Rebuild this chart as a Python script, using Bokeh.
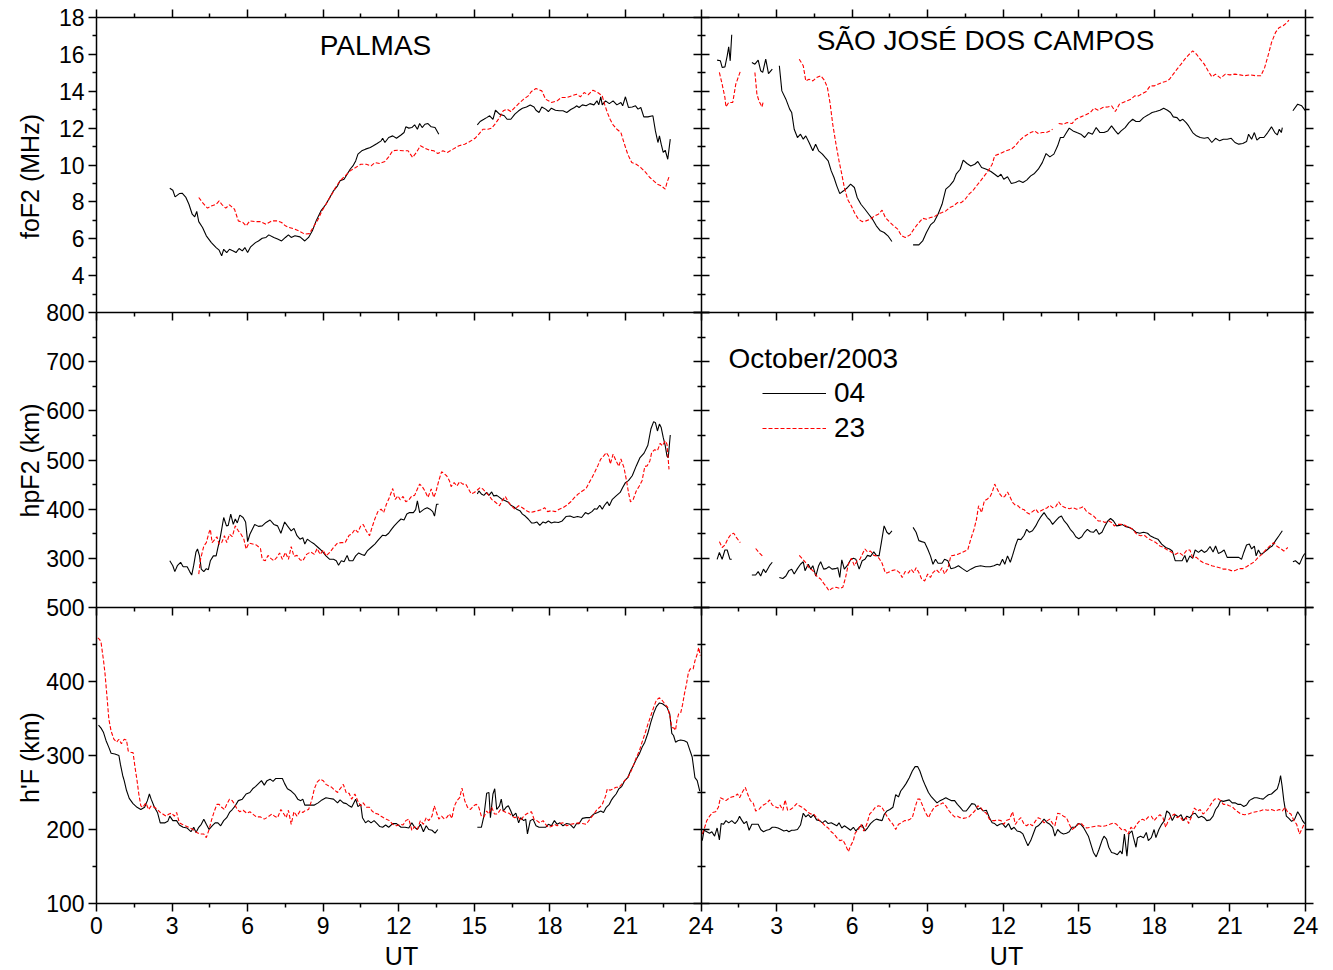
import math
from bokeh.plotting import figure
from bokeh.models import (Range1d, LinearAxis, FixedTicker, Label, Legend,
                          LegendItem, CustomJSTickFormatter)
from bokeh.embed import file_html
from bokeh.resources import INLINE

NAN = float("nan")
FONT = "Liberation Sans"

# ---------------- data (UT hours, value) ; None = data gap ----------------
STATIONS = ["PALMAS", "SÃO JOSÉ DOS CAMPOS"]
DAYS = ["04", "23"]
LEGEND_TITLE = "October/2003"
Y_TITLES = ["foF2 (MHz)", "hpF2 (km)", "h'F (km)"]
X_TITLE = "UT"

UT_TICKS = [0, 3, 6, 9, 12, 15, 18, 21, 24]
FOF2_TICKS = [4, 6, 8, 10, 12, 14, 16, 18]
HPF2_TICKS = [300, 400, 500, 600, 700, 800]
HF_TICKS = [100, 200, 300, 400, 500]

PAL_FOF2_04 = [(2.91,8.74),(3.03,8.63),(3.12,8.27),(3.29,8.45),(3.40,8.47),(3.55,8.24),(3.67,7.87),(3.80,7.33),(3.90,7.19),(3.98,7.48),(4.06,6.93),(4.21,6.61),(4.36,6.16),(4.56,5.79),(4.75,5.52),(4.87,5.38),(4.97,5.07),(5.05,5.43),(5.17,5.25),(5.28,5.43),(5.43,5.34),(5.54,5.25),(5.66,5.47),(5.79,5.34),(5.89,5.52),(6.00,5.25),(6.12,5.56),(6.31,5.79),(6.43,5.88),(6.58,6.03),(6.73,6.07),(6.84,6.21),(7.04,6.07),(7.19,5.98),(7.35,5.88),(7.50,6.07),(7.62,6.21),(7.73,6.07),(7.88,6.16),(8.08,6.10),(8.27,5.88),(8.42,6.07),(8.57,6.43),(8.72,6.97),(8.91,7.51),(9.11,7.87),(9.26,8.24),(9.41,8.60),(9.57,8.87),(9.67,9.14),(9.83,9.23),(9.95,9.50),(10.07,9.77),(10.18,9.95),(10.29,10.22),(10.38,10.59),(10.53,10.77),(10.68,10.86),(10.87,10.95),(10.99,11.04),(11.14,11.17),(11.30,11.31),(11.36,11.45),(11.45,11.22),(11.60,11.49),(11.76,11.58),(11.91,11.45),(12.09,11.63),(12.21,11.76),(12.28,12.07),(12.40,12.00),(12.52,12.03),(12.63,12.18),(12.74,11.94),(12.83,12.25),(12.93,12.03),(13.04,12.21),(13.16,12.25),(13.29,12.07),(13.44,12.03),(13.59,11.67),
    None,
    (15.12,12.18),(15.23,12.36),(15.38,12.48),(15.49,12.57),(15.61,12.67),(15.74,12.48),(15.84,12.97),(16.00,12.76),(16.19,12.67),(16.30,12.48),(16.45,12.48),(16.61,12.76),(16.76,12.94),(16.91,13.08),(17.07,13.15),(17.22,13.26),(17.37,13.15),(17.45,12.97),(17.57,12.85),(17.68,13.15),(17.83,13.03),(17.94,12.90),(18.06,13.08),(18.22,12.97),(18.37,12.94),(18.52,12.94),(18.67,12.85),(18.83,13.01),(18.98,13.12),(19.06,13.21),(19.16,13.12),(19.29,13.26),(19.44,13.21),(19.59,13.33),(19.75,13.26),(19.87,13.48),(19.94,13.26),(20.02,13.70),(20.08,13.26),(20.21,13.48),(20.36,13.33),(20.51,13.48),(20.66,13.26),(20.82,13.39),(20.89,13.21),(21.00,13.70),(21.12,13.12),(21.27,13.15),(21.40,13.21),(21.50,13.03),(21.61,13.12),(21.73,12.61),(21.89,12.61),(22.09,12.67),(22.19,11.85),(22.29,11.22),(22.35,11.58),(22.42,11.13),(22.50,10.68),(22.58,10.80),(22.68,10.31),(22.78,11.40)]

PAL_FOF2_23 = [(4.06,8.24),(4.21,7.96),(4.41,7.66),(4.56,7.78),(4.75,7.87),(4.87,8.05),(4.97,7.87),(5.13,7.66),(5.28,7.84),(5.48,7.60),(5.63,6.97),(5.82,6.88),(5.94,6.70),(6.09,6.97),(6.28,6.93),(6.51,6.93),(6.73,6.79),(6.96,6.97),(7.19,6.97),(7.35,6.88),(7.50,6.70),(7.65,6.61),(7.88,6.52),(8.08,6.39),(8.27,6.25),(8.45,6.28),(8.60,6.61),(8.80,7.06),(8.95,7.51),(9.11,7.87),(9.31,8.33),(9.49,8.78),(9.67,9.14),(9.87,9.41),(10.07,9.68),(10.29,9.86),(10.49,10.04),(10.71,10.04),(10.90,9.95),(11.05,10.13),(11.25,10.08),(11.45,10.19),(11.60,10.44),(11.76,10.77),(11.94,10.80),(12.17,10.77),(12.37,10.77),(12.55,10.41),(12.70,10.68),(12.86,11.04),(13.04,10.91),(13.24,10.80),(13.39,10.77),(13.55,10.62),(13.75,10.77),(13.93,10.68),(14.16,10.86),(14.39,11.04),(14.62,11.13),(14.82,11.27),(15.03,11.45),(15.18,11.67),(15.34,11.94),(15.54,11.94),(15.69,12.00),(15.84,12.25),(16.00,12.57),(16.15,12.94),(16.30,13.03),(16.45,12.90),(16.61,13.12),(16.76,13.33),(16.96,13.57),(17.14,13.75),(17.27,13.99),(17.45,14.15),(17.68,14.02),(17.83,13.57),(18.06,13.39),(18.29,13.48),(18.45,13.66),(18.67,13.66),(18.86,13.75),(19.06,13.84),(19.21,13.70),(19.36,13.93),(19.52,13.81),(19.71,14.06),(19.90,13.93),(20.08,13.75),(20.17,13.30),(20.28,12.85),(20.39,12.48),(20.51,12.18),(20.66,11.94),(20.82,11.76),(20.94,11.22),(21.09,10.59),(21.25,10.13),(21.43,10.04),(21.61,9.86),(21.81,9.59),(21.97,9.32),(22.12,9.14),(22.27,8.96),(22.42,8.87),(22.58,8.69),(22.65,9.05),(22.73,9.36)]

SJC_FOF2_04 = [(0.64,15.69),(0.77,15.65),(0.84,15.29),(0.95,15.32),(1.04,15.92),(1.10,16.41),(1.16,15.65),(1.22,17.06),
    None,
    (2.02,15.56),(2.14,15.47),(2.27,15.69),(2.37,15.11),(2.45,15.02),(2.57,15.74),(2.68,14.96),(2.83,15.20),
    None,
    (3.11,15.38),(3.21,14.02),(3.37,13.57),(3.52,13.03),(3.60,12.85),(3.70,11.94),(3.83,11.49),(3.95,11.67),(4.06,11.40),(4.16,11.58),(4.29,11.22),(4.44,10.77),(4.55,11.13),(4.67,10.77),(4.82,10.59),(4.93,10.41),(5.05,10.22),(5.17,9.68),(5.28,9.32),(5.39,8.87),(5.51,8.45),(5.66,8.60),(5.82,8.78),(5.94,8.96),(6.09,8.78),(6.20,8.24),(6.35,7.87),(6.51,7.60),(6.66,7.33),(6.81,7.06),(6.96,6.70),(7.12,6.43),(7.27,6.34),(7.42,6.16),(7.58,5.85),
    None,
    (8.42,5.67),(8.65,5.67),(8.80,5.88),(8.95,6.34),(9.11,6.75),(9.26,6.93),(9.41,7.33),(9.57,7.87),(9.72,8.69),(9.87,8.87),(10.03,9.14),(10.13,9.50),(10.29,9.77),(10.41,10.26),(10.56,10.08),(10.71,9.95),(10.87,10.04),(10.99,10.19),(11.14,9.86),(11.33,9.77),(11.51,9.65),(11.66,9.50),(11.79,9.36),(11.91,9.50),(12.02,9.23),(12.17,9.36),(12.32,9.00),(12.48,9.05),(12.63,9.14),(12.78,9.05),(12.93,9.18),(13.09,9.41),(13.24,9.54),(13.39,9.77),(13.55,10.13),(13.70,10.62),(13.85,10.44),(14.01,10.59),(14.16,11.04),(14.27,11.49),(14.39,11.49),(14.51,11.76),(14.62,12.00),(14.77,11.85),(14.92,11.76),(15.08,11.67),(15.23,11.49),(15.38,11.76),(15.54,11.67),(15.69,12.03),(15.84,11.76),(16.00,11.76),(16.15,11.85),(16.30,12.12),(16.45,11.85),(16.56,11.67),(16.68,11.85),(16.84,12.03),(16.99,12.30),(17.14,12.48),(17.27,12.36),(17.42,12.36),(17.57,12.57),(17.76,12.72),(17.91,12.85),(18.06,12.90),(18.22,12.97),(18.37,13.08),(18.52,12.97),(18.64,12.85),(18.75,12.61),(18.90,12.57),(19.01,12.39),(19.13,12.48),(19.26,12.30),(19.36,12.12),(19.52,11.76),(19.67,11.58),(19.82,11.49),(19.98,11.45),(20.13,11.49),(20.28,11.22),(20.43,11.45),(20.59,11.31),(20.74,11.40),(20.89,11.40),(21.05,11.45),(21.20,11.22),(21.35,11.13),(21.51,11.17),(21.66,11.27),(21.74,11.67),(21.86,11.40),(21.97,11.76),(22.07,11.35),(22.19,11.49),(22.35,11.49),(22.50,11.76),(22.65,12.07),(22.78,11.76),(22.88,11.63),(22.96,11.94),(23.04,11.76),(23.08,12.03),
    None,
    (23.50,12.94),(23.69,13.30),(23.85,13.21),(24.00,12.94)]

SJC_FOF2_23 = [(0.73,15.02),(0.84,14.38),(0.95,13.66),(0.99,13.15),(1.10,13.39),(1.26,13.39),(1.38,14.38),(1.50,14.84),(1.56,15.07),
    None,
    (2.14,15.02),(2.22,13.84),(2.30,13.48),(2.42,13.15),(2.48,13.48),
    None,
    (3.90,15.74),(4.06,15.38),(4.16,14.56),(4.29,14.65),(4.44,14.56),(4.59,14.75),(4.75,14.84),(4.90,14.60),(5.02,14.20),(5.13,13.30),(5.23,12.21),(5.36,11.13),(5.48,10.22),(5.59,9.50),(5.69,8.78),(5.82,8.14),(5.97,7.78),(6.09,7.42),(6.25,7.06),(6.40,6.93),(6.55,6.97),(6.73,7.06),(6.89,7.24),(7.04,7.33),(7.19,7.55),(7.32,7.15),(7.47,6.93),(7.65,6.70),(7.81,6.52),(7.96,6.16),(8.11,6.07),(8.30,6.21),(8.45,6.52),(8.60,6.79),(8.80,7.11),(8.95,7.06),(9.11,7.15),(9.26,7.19),(9.41,7.33),(9.57,7.42),(9.72,7.51),(9.87,7.69),(10.03,7.78),(10.18,7.96),(10.33,7.96),(10.49,8.14),(10.64,8.42),(10.79,8.60),(10.94,8.87),(11.10,9.14),(11.25,9.41),(11.40,9.68),(11.56,10.04),(11.66,10.50),(11.82,10.59),(11.97,10.68),(12.12,10.77),(12.32,10.86),(12.48,11.04),(12.63,11.31),(12.78,11.49),(12.93,11.63),(13.09,11.76),(13.24,11.85),(13.39,11.71),(13.55,11.76),(13.70,11.76),(13.85,11.85),(13.96,11.94),
    None,
    (14.20,12.25),(14.39,12.21),(14.54,12.30),(14.73,12.25),(14.88,12.48),(15.08,12.61),(15.28,12.72),(15.46,12.85),(15.61,13.08),(15.77,12.97),(15.95,13.12),(16.15,13.15),(16.30,13.21),(16.45,12.90),(16.61,13.30),(16.76,13.39),(16.91,13.48),(17.07,13.57),(17.22,13.75),(17.37,13.75),(17.53,13.88),(17.68,13.99),(17.83,14.29),(17.99,14.29),(18.14,14.38),(18.29,14.47),(18.45,14.53),(18.60,14.65),(18.75,14.93),(18.90,15.20),(19.06,15.47),(19.21,15.74),(19.36,15.97),(19.52,16.19),(19.67,16.01),(19.82,15.74),(19.98,15.47),(20.13,15.11),(20.28,14.78),(20.43,14.93),(20.63,14.71),(20.82,14.93),(21.00,14.89),(21.20,14.93),(21.40,14.89),(21.58,14.84),(21.81,14.89),(22.04,14.84),(22.23,14.84),(22.38,15.29),(22.53,16.01),(22.65,16.64),(22.81,17.19),(22.96,17.46),(23.11,17.55),(23.27,17.73),(23.34,17.86)]

PAL_HPF2_04 = [(2.91,295),(3.03,285),(3.11,273),(3.21,285),(3.34,292),(3.44,283),(3.60,283),(3.70,273),(3.78,266),(3.86,286),(3.95,313),(4.01,319),(4.09,305),(4.16,278),(4.26,273),(4.36,279),(4.44,277),(4.52,295),(4.64,305),(4.75,305),(4.82,322),(4.90,339),(4.97,359),(5.05,383),(5.16,366),(5.23,367),(5.33,390),(5.43,369),(5.51,380),(5.59,372),(5.69,388),(5.82,383),(5.92,374),(6.00,334),(6.09,349),(6.28,369),(6.43,365),(6.58,366),(6.73,373),(6.89,378),(7.04,369),(7.19,366),(7.32,351),(7.47,374),(7.58,366),(7.73,356),(7.84,361),(7.96,346),(8.08,339),(8.19,342),(8.27,329),(8.37,339),(8.50,334),(8.65,329),(8.80,322),(8.95,315),(9.11,305),(9.26,298),(9.41,298),(9.52,295),(9.61,286),(9.72,295),(9.83,293),(9.95,306),(10.03,295),(10.18,295),(10.29,305),(10.41,311),(10.53,308),(10.64,306),(10.75,315),(10.90,322),(11.05,329),(11.20,338),(11.36,347),(11.48,346),(11.60,351),(11.71,359),(11.82,366),(11.97,374),(12.09,380),(12.21,378),(12.32,390),(12.43,393),(12.58,393),(12.67,399),(12.74,417),(12.83,393),(12.93,397),(13.04,401),(13.13,403),(13.24,400),(13.35,395),(13.42,386),(13.50,410),(13.58,410),
    None,
    (15.12,431),(15.18,437),(15.28,431),(15.38,428),(15.49,434),(15.58,428),(15.69,435),(15.77,427),(15.89,428),(16.00,424),(16.10,420),(16.23,417),(16.35,414),(16.45,408),(16.56,405),(16.68,400),(16.81,397),(16.91,390),(17.02,386),(17.14,380),(17.27,372),(17.37,372),(17.48,374),(17.60,367),(17.73,374),(17.83,372),(17.94,376),(18.06,372),(18.18,374),(18.34,373),(18.49,376),(18.64,385),(18.80,386),(18.95,383),(19.10,385),(19.26,383),(19.41,393),(19.52,390),(19.67,395),(19.78,401),(19.87,400),(19.98,408),(20.08,400),(20.17,408),(20.28,415),(20.36,407),(20.48,420),(20.63,427),(20.79,434),(20.89,444),(21.00,454),(21.12,458),(21.27,468),(21.43,488),(21.58,505),(21.74,514),(21.89,530),(22.01,563),(22.12,578),(22.19,576),(22.27,559),(22.35,573),(22.42,566),(22.50,546),(22.58,529),(22.65,508),(22.70,505),(22.78,551)]

PAL_HPF2_23 = [(4.06,268),(4.13,298),(4.26,325),(4.36,332),(4.47,353),(4.52,359),(4.59,332),(4.71,339),(4.78,344),(4.87,329),(4.97,332),(5.08,346),(5.17,332),(5.28,349),(5.39,344),(5.51,366),(5.63,356),(5.74,349),(5.85,339),(5.94,319),(6.05,331),(6.20,329),(6.35,327),(6.51,320),(6.58,298),(6.70,295),(6.81,306),(6.92,300),(7.04,295),(7.16,302),(7.27,311),(7.38,298),(7.50,312),(7.62,298),(7.73,324),(7.84,304),(7.96,306),(8.08,297),(8.19,295),(8.34,308),(8.50,313),(8.65,308),(8.76,320),(8.88,308),(9.00,317),(9.11,305),(9.26,312),(9.41,322),(9.57,331),(9.72,332),(9.87,332),(10.03,347),(10.13,349),(10.26,359),(10.38,353),(10.49,366),(10.59,369),(10.71,356),(10.84,346),(10.94,363),(11.05,380),(11.17,395),(11.30,400),(11.40,393),(11.51,410),(11.63,424),(11.76,442),(11.86,420),(11.97,427),(12.06,419),(12.17,426),(12.28,415),(12.40,419),(12.52,427),(12.63,428),(12.74,441),(12.83,451),(12.93,446),(13.04,437),(13.16,424),(13.29,441),(13.39,424),(13.47,434),(13.59,458),(13.70,476),(13.78,473),(13.90,468),(14.01,458),(14.08,446),(14.20,454),(14.31,447),(14.42,456),(14.54,451),(14.66,451),(14.77,441),(14.88,431),(15.00,434),(15.12,439),(15.23,444),(15.34,441),(15.46,434),(15.58,428),(15.69,420),(15.84,414),(16.00,407),(16.10,417),(16.23,426),(16.35,415),(16.45,408),(16.61,400),(16.76,407),(16.91,403),(17.07,397),(17.22,393),(17.37,395),(17.53,397),(17.68,399),(17.79,403),(17.91,395),(18.06,397),(18.22,395),(18.37,400),(18.52,403),(18.67,408),(18.83,415),(18.98,424),(19.13,431),(19.29,437),(19.44,442),(19.56,454),(19.67,464),(19.78,475),(19.90,488),(20.02,502),(20.13,508),(20.24,515),(20.33,508),(20.40,492),(20.51,512),(20.63,498),(20.74,487),(20.82,502),(20.94,485),(21.05,456),(21.12,434),(21.20,415),(21.31,420),(21.43,437),(21.55,447),(21.66,458),(21.77,487),(21.86,488),(21.97,498),(22.04,515),(22.16,521),(22.27,519),(22.38,534),(22.47,529),(22.58,539),(22.65,532),(22.73,481)]

SJC_HPF2_04 = [(0.64,298),(0.73,312),(0.84,298),(0.95,317),(1.04,317),(1.15,298),(1.22,298),
    None,
    (2.02,266),(2.17,266),(2.27,273),(2.37,264),(2.48,278),(2.57,271),(2.72,285),(2.83,292),
    None,
    (3.11,261),(3.25,259),(3.37,264),(3.49,275),(3.60,278),(3.70,268),(3.83,279),(3.95,288),(4.06,293),(4.13,275),(4.26,288),(4.36,278),(4.44,285),(4.56,264),(4.67,285),(4.75,293),(4.87,278),(4.97,279),(5.08,283),(5.20,278),(5.33,279),(5.43,281),(5.51,261),(5.59,297),(5.69,278),(5.82,286),(5.94,297),(6.05,300),(6.15,298),(6.28,278),(6.40,295),(6.51,298),(6.61,306),(6.73,304),(6.86,313),(6.96,306),(7.07,305),(7.16,332),(7.27,366),(7.38,353),(7.47,349),(7.58,356),
    None,
    (8.42,363),(8.54,353),(8.65,336),(8.76,334),(8.88,332),(9.00,319),(9.11,305),(9.21,288),(9.31,298),(9.41,290),(9.57,290),(9.67,298),(9.80,295),(9.92,279),(10.07,281),(10.22,285),(10.38,279),(10.56,273),(10.71,278),(10.90,283),(11.10,285),(11.30,283),(11.48,283),(11.63,285),(11.76,288),(11.86,286),(11.97,298),(12.06,288),(12.17,305),(12.28,292),(12.37,306),(12.48,325),(12.58,339),(12.70,338),(12.83,347),(12.93,359),(13.04,353),(13.16,356),(13.29,366),(13.39,376),(13.50,385),(13.62,393),(13.75,383),(13.85,378),(13.96,369),(14.08,376),(14.20,383),(14.31,386),(14.42,376),(14.54,369),(14.66,359),(14.77,353),(14.88,344),(15.00,340),(15.12,344),(15.23,353),(15.34,359),(15.46,354),(15.58,353),(15.69,359),(15.80,349),(15.92,353),(16.04,366),(16.15,376),(16.26,381),(16.38,376),(16.50,366),(16.61,367),(16.72,369),(16.84,365),(16.99,363),(17.14,359),(17.27,353),(17.42,351),(17.57,353),(17.73,351),(17.83,346),(17.99,342),(18.14,339),(18.29,329),(18.45,322),(18.60,319),(18.71,315),(18.83,295),(18.98,295),(19.10,295),(19.21,306),(19.29,292),(19.41,305),(19.52,300),(19.62,317),(19.75,312),(19.87,317),(19.98,312),(20.08,315),(20.21,324),(20.33,313),(20.43,325),(20.54,310),(20.66,313),(20.77,317),(20.89,302),(21.05,302),(21.20,302),(21.35,302),(21.46,298),(21.55,312),(21.66,327),(21.77,329),(21.86,319),(21.97,325),(22.04,305),(22.13,317),(22.23,308),(22.35,312),(22.47,317),(22.58,322),(22.68,325),(22.81,336),(22.96,347),(23.08,356),
    None,
    (23.50,293),(23.60,295),(23.76,288),(23.88,302),(23.97,310)]

SJC_HPF2_23 = [(0.73,334),(0.84,322),(0.95,327),(1.07,340),(1.19,349),(1.30,351),(1.41,342),(1.56,332),
    None,
    (2.17,320),(2.30,312),(2.45,304),
    None,
    (3.90,306),(4.01,300),(4.13,293),(4.29,281),(4.44,275),(4.59,264),(4.75,258),(4.87,249),(4.97,243),(5.08,234),(5.20,239),(5.36,241),(5.51,239),(5.63,241),(5.74,261),(5.85,288),(5.97,300),(6.09,285),(6.20,295),(6.31,298),(6.40,308),(6.51,319),(6.61,313),(6.73,315),(6.86,306),(6.96,305),(7.07,300),(7.19,290),(7.32,270),(7.42,271),(7.58,275),(7.73,277),(7.88,271),(7.99,261),(8.11,273),(8.23,270),(8.34,278),(8.45,271),(8.54,281),(8.65,271),(8.76,258),(8.88,254),(9.00,268),(9.11,261),(9.21,271),(9.34,277),(9.46,271),(9.57,281),(9.67,268),(9.80,279),(9.92,305),(10.03,306),(10.18,308),(10.33,311),(10.49,315),(10.59,317),(10.71,339),(10.84,359),(10.94,380),(11.02,407),(11.14,393),(11.25,417),(11.36,420),(11.48,426),(11.56,434),(11.66,451),(11.76,441),(11.86,431),(11.97,424),(12.06,426),(12.17,435),(12.25,427),(12.37,414),(12.48,408),(12.58,407),(12.70,401),(12.83,399),(12.93,393),(13.04,390),(13.16,395),(13.29,400),(13.39,393),(13.50,397),(13.62,400),(13.75,403),(13.85,408),(13.96,403),(14.08,405),(14.20,415),(14.31,407),(14.47,403),(14.62,401),(14.77,403),(14.92,400),(15.08,403),(15.18,405),(15.31,395),(15.46,390),(15.61,385),(15.77,376),(15.92,376),(16.04,373),(16.19,376),(16.30,373),(16.41,366),(16.53,369),(16.68,369),(16.84,367),(16.99,363),(17.14,359),(17.30,349),(17.45,346),(17.60,347),(17.76,340),(17.91,336),(18.06,332),(18.22,325),(18.37,322),(18.52,317),(18.67,313),(18.83,308),(18.98,312),(19.13,306),(19.29,317),(19.41,317),(19.52,302),(19.67,302),(19.82,295),(19.98,290),(20.13,288),(20.28,285),(20.43,283),(20.59,281),(20.74,278),(20.89,278),(21.05,275),(21.20,275),(21.35,279),(21.51,279),(21.66,283),(21.81,288),(21.97,293),(22.12,302),(22.27,308),(22.42,317),(22.58,325),(22.73,332),(22.88,324),(23.04,319),(23.14,315),(23.30,322)]

PAL_HF_04 = [(0.08,341),(0.18,337),(0.28,331),(0.38,320),(0.49,311),(0.58,303),(0.73,302),(0.89,300),(0.95,288),(1.04,273),(1.10,266),(1.19,253),(1.30,242),(1.45,235),(1.61,230),(1.76,227),(1.91,230),(2.02,239),(2.10,248),(2.17,241),(2.30,230),(2.42,223),(2.53,209),(2.72,209),(2.83,211),(2.91,218),(3.03,212),(3.18,212),(3.29,206),(3.44,203),(3.60,202),(3.75,197),(3.86,203),(3.95,196),(4.06,203),(4.16,207),(4.26,214),(4.36,207),(4.47,200),(4.59,205),(4.71,209),(4.82,209),(4.93,205),(5.05,212),(5.17,216),(5.28,223),(5.39,227),(5.51,232),(5.63,239),(5.79,241),(5.94,248),(6.09,250),(6.20,255),(6.31,258),(6.43,262),(6.55,266),(6.66,260),(6.77,266),(6.89,268),(7.01,265),(7.12,269),(7.27,269),(7.38,269),(7.47,262),(7.58,255),(7.73,252),(7.88,247),(7.99,241),(8.11,239),(8.19,241),(8.27,233),(8.39,233),(8.50,233),(8.65,233),(8.80,236),(8.95,240),(9.11,243),(9.26,242),(9.41,241),(9.57,236),(9.67,240),(9.80,236),(9.92,235),(10.03,232),(10.13,230),(10.29,241),(10.38,231),(10.49,234),(10.56,216),(10.68,209),(10.79,212),(10.90,209),(11.02,212),(11.14,208),(11.25,204),(11.36,203),(11.48,206),(11.60,203),(11.76,208),(11.91,208),(12.09,203),(12.25,203),(12.40,202),(12.52,209),(12.63,203),(12.74,200),(12.86,207),(12.98,197),(13.09,205),(13.19,200),(13.32,199),(13.44,195),(13.55,200),
    None,
    (15.12,203),(15.28,203),(15.38,218),(15.49,249),(15.58,250),(15.64,216),(15.74,248),(15.81,255),(15.89,227),(16.00,232),(16.07,241),(16.15,225),(16.26,230),(16.35,232),(16.45,225),(16.53,218),(16.65,222),(16.76,209),(16.84,216),(16.96,212),(17.04,214),(17.11,194),(17.22,212),(17.33,214),(17.45,205),(17.57,203),(17.68,203),(17.83,203),(17.94,207),(18.06,205),(18.18,212),(18.29,207),(18.40,209),(18.52,205),(18.67,208),(18.80,207),(18.95,202),(19.06,208),(19.16,208),(19.29,215),(19.44,216),(19.59,216),(19.75,221),(19.90,223),(20.02,225),(20.13,223),(20.24,230),(20.36,234),(20.43,239),(20.51,243),(20.63,248),(20.74,255),(20.85,258),(20.97,266),(21.09,270),(21.20,279),(21.31,286),(21.43,295),(21.55,302),(21.66,311),(21.77,318),(21.89,330),(22.01,345),(22.12,357),(22.23,366),(22.35,371),(22.47,370),(22.58,367),(22.65,365),(22.76,356),(22.84,330),(22.91,327),(22.99,318),(23.08,320),(23.19,321),(23.34,320),(23.45,318),(23.54,309),(23.65,298),(23.76,270),(23.85,266),(23.95,252)]

PAL_HF_23 = [(0.05,459),(0.12,457),(0.18,453),(0.28,428),(0.34,410),(0.43,374),(0.49,349),(0.58,333),(0.69,322),(0.80,318),(0.89,322),(0.99,316),(1.10,322),(1.19,321),(1.26,306),(1.38,304),(1.45,304),(1.53,284),(1.61,266),(1.68,248),(1.76,232),(1.84,230),(1.96,236),(2.07,227),(2.17,232),(2.30,230),(2.42,227),(2.53,223),(2.63,221),(2.76,218),(2.88,221),(2.98,222),(3.09,218),(3.18,223),(3.29,209),(3.40,207),(3.52,205),(3.67,203),(3.83,200),(3.98,196),(4.10,194),(4.26,194),(4.36,189),(4.47,200),(4.56,212),(4.67,224),(4.78,234),(4.87,234),(4.97,230),(5.08,227),(5.17,234),(5.28,241),(5.39,239),(5.48,234),(5.59,227),(5.69,224),(5.82,226),(5.97,222),(6.09,224),(6.20,221),(6.35,217),(6.51,217),(6.66,214),(6.81,217),(6.96,221),(7.07,218),(7.19,216),(7.32,227),(7.42,222),(7.53,216),(7.62,226),(7.73,207),(7.84,224),(7.96,218),(8.08,225),(8.19,223),(8.30,226),(8.42,227),(8.54,239),(8.65,255),(8.76,264),(8.88,268),(9.00,266),(9.11,261),(9.21,259),(9.34,257),(9.46,253),(9.57,250),(9.67,255),(9.80,261),(9.92,249),(10.03,249),(10.13,241),(10.26,248),(10.38,238),(10.49,232),(10.59,236),(10.71,230),(10.84,230),(10.94,225),(11.05,222),(11.17,221),(11.30,218),(11.40,216),(11.51,214),(11.63,212),(11.76,207),(11.91,205),(12.06,207),(12.17,206),(12.28,212),(12.40,214),(12.52,199),(12.63,204),(12.74,200),(12.86,212),(12.98,207),(13.09,216),(13.19,212),(13.32,218),(13.41,232),(13.50,223),(13.59,214),(13.70,218),(13.81,214),(13.90,216),(14.01,221),(14.11,215),(14.20,231),(14.31,239),(14.42,243),(14.51,256),(14.62,239),(14.73,230),(14.85,227),(14.97,232),(15.08,234),(15.18,230),(15.28,218),(15.38,217),(15.49,225),(15.58,221),(15.69,230),(15.80,221),(15.92,221),(16.04,227),(16.15,225),(16.26,223),(16.38,222),(16.50,218),(16.61,216),(16.72,218),(16.84,212),(16.96,218),(17.07,221),(17.17,223),(17.27,224),(17.37,214),(17.48,212),(17.60,209),(17.73,212),(17.83,207),(17.94,203),(18.06,204),(18.18,207),(18.29,205),(18.40,208),(18.52,209),(18.67,205),(18.83,207),(18.98,208),(19.13,209),(19.29,208),(19.44,207),(19.59,214),(19.75,221),(19.87,227),(19.98,230),(20.08,234),(20.21,245),(20.28,255),(20.39,253),(20.51,255),(20.63,257),(20.74,257),(20.85,261),(20.97,266),(21.09,270),(21.20,277),(21.31,286),(21.43,297),(21.55,306),(21.66,318),(21.77,329),(21.89,342),(22.01,354),(22.12,365),(22.23,375),(22.35,378),(22.47,374),(22.58,369),(22.68,365),(22.78,351),(22.84,338),(22.93,337),(22.99,334),(23.04,347),(23.11,356),(23.19,357),(23.27,369),(23.34,383),(23.42,396),(23.50,412),(23.57,417),(23.69,417),(23.76,428),(23.85,437),(23.91,446),(23.97,435)]

SJC_HF_04 = [(0.05,185),(0.12,199),(0.23,197),(0.34,195),(0.43,197),(0.54,191),(0.64,202),(0.73,186),(0.80,208),(0.89,207),(0.99,212),(1.10,209),(1.22,212),(1.35,208),(1.45,212),(1.53,218),(1.61,213),(1.71,208),(1.81,211),(1.91,199),(2.02,207),(2.14,207),(2.27,207),(2.37,200),(2.48,197),(2.60,199),(2.72,200),(2.83,203),(2.94,203),(3.06,202),(3.18,200),(3.29,198),(3.40,199),(3.49,197),(3.60,199),(3.70,199),(3.83,200),(3.95,206),(4.06,222),(4.16,217),(4.26,220),(4.36,216),(4.47,220),(4.59,213),(4.71,212),(4.82,209),(4.93,212),(5.05,208),(5.17,209),(5.28,207),(5.39,205),(5.48,209),(5.59,202),(5.69,205),(5.82,202),(5.94,199),(6.05,203),(6.15,198),(6.28,203),(6.40,206),(6.51,198),(6.61,202),(6.73,208),(6.86,212),(6.96,214),(7.07,213),(7.19,212),(7.27,220),(7.38,225),(7.50,227),(7.62,230),(7.73,247),(7.84,244),(7.93,252),(8.04,257),(8.14,262),(8.27,270),(8.39,279),(8.50,285),(8.60,285),(8.69,279),(8.80,268),(8.91,259),(9.03,250),(9.15,244),(9.26,240),(9.37,236),(9.49,239),(9.61,241),(9.72,243),(9.83,241),(9.95,239),(10.07,239),(10.18,234),(10.29,230),(10.41,225),(10.53,225),(10.64,230),(10.75,235),(10.87,234),(10.99,227),(11.10,229),(11.20,225),(11.33,226),(11.45,216),(11.56,209),(11.66,208),(11.76,205),(11.86,207),(11.97,208),(12.09,203),(12.21,208),(12.32,200),(12.43,203),(12.55,198),(12.67,197),(12.78,194),(12.89,185),(12.98,178),(13.09,185),(13.19,194),(13.29,203),(13.39,205),(13.50,209),(13.62,214),(13.75,209),(13.85,207),(13.96,203),(14.05,191),(14.16,200),(14.27,196),(14.39,194),(14.51,195),(14.62,197),(14.73,203),(14.85,203),(14.97,208),(15.08,207),(15.18,203),(15.28,197),(15.38,191),(15.49,179),(15.58,169),(15.69,163),(15.80,173),(15.92,185),(16.00,191),(16.10,187),(16.19,176),(16.30,169),(16.41,168),(16.53,166),(16.65,171),(16.72,167),(16.81,194),(16.91,164),(16.99,194),(17.11,198),(17.17,189),(17.27,176),(17.33,189),(17.45,191),(17.57,189),(17.68,196),(17.76,185),(17.88,189),(17.99,200),(18.06,189),(18.18,200),(18.29,207),(18.40,212),(18.49,225),(18.60,222),(18.71,212),(18.83,220),(18.95,217),(19.06,220),(19.16,212),(19.29,218),(19.41,216),(19.52,221),(19.62,222),(19.75,216),(19.87,218),(19.98,216),(20.08,212),(20.21,213),(20.33,218),(20.43,227),(20.54,232),(20.63,239),(20.74,238),(20.85,239),(20.97,240),(21.09,236),(21.20,236),(21.31,234),(21.43,234),(21.55,231),(21.66,233),(21.77,239),(21.86,241),(21.97,243),(22.07,243),(22.19,242),(22.32,241),(22.42,244),(22.53,247),(22.65,248),(22.78,252),(22.88,255),(22.96,264),(23.01,273),(23.07,259),(23.14,239),(23.24,218),(23.34,215),(23.45,211),(23.57,214),(23.69,224),(23.80,218),(23.88,212),(23.97,208)]

SJC_HF_23 = [(0.05,194),(0.12,200),(0.23,212),(0.34,218),(0.46,223),(0.58,224),(0.69,230),(0.77,243),(0.89,241),(0.99,239),(1.10,242),(1.22,244),(1.35,245),(1.45,248),(1.53,243),(1.65,251),(1.76,257),(1.84,249),(1.96,239),(2.07,236),(2.17,225),(2.30,227),(2.42,232),(2.53,234),(2.63,236),(2.72,240),(2.83,233),(2.94,231),(3.06,229),(3.14,233),(3.25,226),(3.34,240),(3.44,226),(3.55,227),(3.67,230),(3.80,235),(3.90,232),(4.01,230),(4.13,227),(4.26,223),(4.36,221),(4.47,221),(4.59,216),(4.71,212),(4.82,209),(4.93,205),(5.05,202),(5.17,197),(5.28,194),(5.39,189),(5.51,185),(5.63,186),(5.74,179),(5.85,170),(5.94,178),(6.05,185),(6.12,195),(6.25,200),(6.35,207),(6.46,198),(6.58,207),(6.70,221),(6.81,225),(6.92,230),(7.04,232),(7.16,231),(7.27,225),(7.38,218),(7.50,212),(7.62,207),(7.73,200),(7.84,207),(7.96,209),(8.08,212),(8.19,212),(8.30,214),(8.39,216),(8.50,230),(8.60,241),(8.69,241),(8.80,232),(8.91,223),(9.03,216),(9.15,224),(9.26,230),(9.37,232),(9.49,234),(9.61,236),(9.72,232),(9.83,226),(9.95,221),(10.07,217),(10.18,218),(10.29,216),(10.41,215),(10.53,216),(10.64,217),(10.75,221),(10.87,225),(10.99,232),(11.10,230),(11.20,225),(11.33,222),(11.45,214),(11.56,212),(11.66,212),(11.79,213),(11.91,212),(12.02,207),(12.12,212),(12.25,214),(12.37,224),(12.48,207),(12.58,212),(12.70,216),(12.83,207),(12.93,205),(13.04,208),(13.16,205),(13.29,212),(13.39,216),(13.50,214),(13.62,209),(13.75,212),(13.85,214),(13.96,208),(14.05,205),(14.16,222),(14.27,221),(14.39,218),(14.51,216),(14.62,207),(14.73,200),(14.85,203),(14.97,207),(15.08,209),(15.18,205),(15.31,202),(15.46,203),(15.61,204),(15.77,205),(15.92,204),(16.07,205),(16.23,207),(16.38,209),(16.50,207),(16.61,203),(16.72,199),(16.84,200),(16.96,194),(17.07,203),(17.17,200),(17.30,207),(17.42,212),(17.53,214),(17.63,212),(17.76,217),(17.88,218),(17.99,212),(18.09,216),(18.22,220),(18.34,216),(18.45,203),(18.55,212),(18.67,218),(18.80,221),(18.90,216),(19.01,218),(19.13,212),(19.26,216),(19.36,208),(19.47,217),(19.59,229),(19.71,225),(19.82,227),(19.93,221),(20.05,224),(20.17,230),(20.28,236),(20.39,241),(20.51,242),(20.63,239),(20.74,234),(20.85,234),(20.97,232),(21.09,231),(21.20,227),(21.31,224),(21.43,221),(21.58,220),(21.74,221),(21.89,223),(22.04,224),(22.19,225),(22.35,227),(22.50,226),(22.65,227),(22.81,225),(22.96,227),(23.08,225),(23.19,230),(23.30,223),(23.42,221),(23.54,212),(23.65,207),(23.76,194),(23.85,200),(23.93,206)]


def split(pts):
    xs, ys = [], []
    for pt in pts:
        if pt is None:
            xs.append(NAN); ys.append(NAN)
        else:
            xs.append(pt[0]); ys.append(pt[1])
    return xs, ys


# ---------------- layout (canvas pixels) ----------------
W, H = 1330, 968
PX_LEFT, PX_RIGHT = 96, 1305          # x of UT 0 (Palmas) and UT 24 (SJC)
PX_ROWS = [17, 312, 607, 903]         # row borders, top to bottom
X_PER_PX = 48.0 / (PX_RIGHT - PX_LEFT)

ROW_LIMITS = [(2, 18), (200, 800), (100, 500)]


def y_range(lo, hi, px_top, px_bot):
    k = (hi - lo) / float(px_bot - px_top)
    return Range1d(lo - (H - px_bot) * k, hi + px_top * k)


# the frame fills the whole canvas; every panel is placed through its ranges
p = figure(width=W, height=H,
           x_range=Range1d(-PX_LEFT * X_PER_PX, (W - PX_LEFT) * X_PER_PX),
           y_range=y_range(100, 500, PX_ROWS[2], PX_ROWS[3]),
           x_axis_location=None, y_axis_location=None,
           output_backend="svg", toolbar_location=None,
           min_border=0, min_border_left=0, min_border_right=0,
           min_border_top=0, min_border_bottom=0)
p.extra_x_ranges = {"sjc": Range1d(-PX_LEFT * X_PER_PX - 24, (W - PX_LEFT) * X_PER_PX - 24)}
p.extra_y_ranges = {"r1": y_range(2, 18, PX_ROWS[0], PX_ROWS[1]),
                    "r2": y_range(200, 800, PX_ROWS[1], PX_ROWS[2])}
p.grid.visible = False
p.outline_line_color = None
p.background_fill_color = "white"
p.border_fill_color = "white"

ROWS = [("r1", 2, 18, FOF2_TICKS, PAL_FOF2_04, PAL_FOF2_23, SJC_FOF2_04, SJC_FOF2_23),
        ("r2", 200, 800, HPF2_TICKS, PAL_HPF2_04, PAL_HPF2_23, SJC_HPF2_04, SJC_HPF2_23),
        ("default", 100, 500, HF_TICKS, PAL_HF_04, PAL_HF_23, SJC_HF_04, SJC_HF_23)]

legend_renderers = []
for rname, lo, hi, ticks, p04, p23, s04, s23 in ROWS:
    for xr, d04, d23 in (("default", p04, p23), ("sjc", s04, s23)):
        x, y = split(d04)
        r1 = p.line(x, y, x_range_name=xr, y_range_name=rname,
                    line_color="black", line_width=1.1)
        x, y = split(d23)
        r2 = p.line(x, y, x_range_name=xr, y_range_name=rname,
                    line_color="#ff0000", line_width=1.1, line_dash="4 2")
        if not legend_renderers:
            legend_renderers = [r1, r2]

blank = CustomJSTickFormatter(code="return ''")


def add_axis(side, ticks, minor, loc, bounds, tin, tout, mtin, mtout,
             labels=False, xr="default", yr="default", standoff=4):
    ax = LinearAxis(ticker=FixedTicker(ticks=ticks, minor_ticks=minor),
                    fixed_location=loc, bounds=bounds,
                    x_range_name=xr, y_range_name=yr,
                    major_tick_in=tin, major_tick_out=tout,
                    minor_tick_in=mtin, minor_tick_out=mtout,
                    axis_line_width=1.5, axis_line_color="black",
                    major_tick_line_width=1.5, minor_tick_line_width=1.5,
                    major_label_text_font=FONT,
                    major_label_text_font_size="23px",
                    major_label_text_color="black",
                    major_label_standoff=standoff)
    if not labels:
        ax.formatter = blank
    p.add_layout(ax, side)


for rname, lo, hi, ticks, *_ in ROWS:
    step = ticks[1] - ticks[0]
    all_ticks = [lo + i * step for i in range(int(round((hi - lo) / step)) + 1)]
    minor = [t + step / 2 for t in all_ticks[:-1]]
    # labelled outer left axis
    add_axis("left", ticks, minor, 0, (lo, hi), 0, 8, 0, 4, labels=True, yr=rname)
    # shared border between the two stations: ticks on both sides
    add_axis("left", all_ticks, minor, 24, (lo, hi), 8, 8, 4, 4, yr=rname)
    # outer right axis
    add_axis("right", all_ticks, minor, 48, (lo, hi), 0, 8, 0, 4, yr=rname)

X_MAJOR = [3 * i for i in range(17)]
X_MINOR = [1.5 + 3 * i for i in range(16)]
# top of panel row 1 (ticks outward) and the two inner row borders (ticks downward)
add_axis("above", X_MAJOR, X_MINOR, 18, (0, 48), 0, 8, 0, 4, yr="r1")
add_axis("above", X_MAJOR, X_MINOR, 800, (0, 48), 8, 0, 4, 0, yr="r2")
add_axis("above", X_MAJOR, X_MINOR, 500, (0, 48), 8, 0, 4, 0)
# labelled bottom axes, one per station
ut_minor = [1.5 + 3 * i for i in range(8)]
add_axis("below", UT_TICKS, ut_minor, 100, (0, 24), 0, 8, 0, 4, labels=True, standoff=5)
add_axis("below", UT_TICKS[1:], ut_minor, 100, (0, 24), 0, 8, 0, 4, labels=True,
         xr="sjc", standoff=5)


def px_x(px, xr="default"):
    v = (px - PX_LEFT) * X_PER_PX
    return v - 24 if xr == "sjc" else v


def px_y(px, row):
    lo, hi = ROW_LIMITS[row]
    top, bot = PX_ROWS[row], PX_ROWS[row + 1]
    return hi - (px - top) * (hi - lo) / float(bot - top)


def text(txt, px, py, row, size, xr="default", align="center", angle=0.0):
    yr = ["r1", "r2", "default"][row]
    p.add_layout(Label(x=px_x(px, xr), y=px_y(py, row), x_range_name=xr, y_range_name=yr,
                       text=txt, angle=angle, text_align=align, text_baseline="middle",
                       text_font=FONT, text_font_size=size, text_color="black"))


# axis titles
text(Y_TITLES[0], 29, 176, 0, "25px", angle=math.pi / 2)
text(Y_TITLES[1], 29, 460, 1, "25px", angle=math.pi / 2)
text(Y_TITLES[2], 29, 757, 2, "25px", angle=math.pi / 2)
text(X_TITLE, 401, 955, 2, "25px")
text(X_TITLE, 1006, 955, 2, "25px", xr="sjc")

# station titles
text(STATIONS[0], 375, 45, 0, "28px")
text(STATIONS[1], 985, 40, 0, "28px", xr="sjc")

# legend
text(LEGEND_TITLE, 728, 358, 1, "28px", xr="sjc", align="left")
legend = Legend(items=[LegendItem(label=DAYS[0], renderers=[legend_renderers[0]]),
                       LegendItem(label=DAYS[1], renderers=[legend_renderers[1]])],
                location=(762, H - 444), orientation="vertical",
                glyph_width=64, glyph_height=20, label_standoff=8, spacing=3,
                padding=0, margin=0, border_line_color=None,
                background_fill_alpha=0,
                label_text_font=FONT, label_text_font_size="28px",
                label_text_color="black")
p.add_layout(legend)

open("out.html", "w").write(file_html(p, INLINE))
